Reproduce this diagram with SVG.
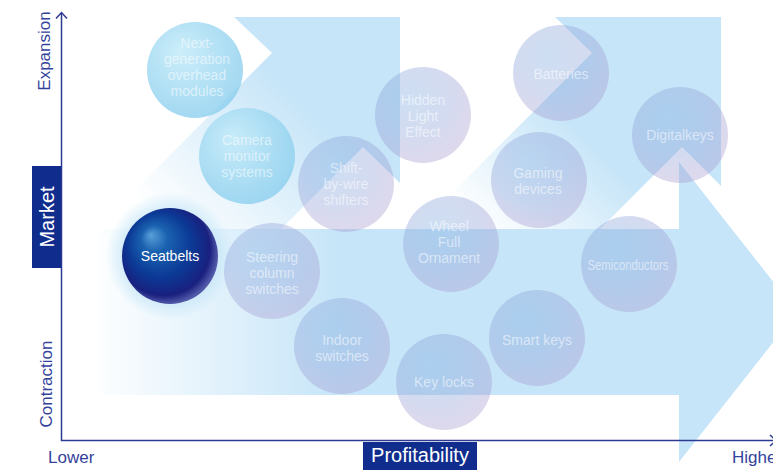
<svg xmlns="http://www.w3.org/2000/svg" width="773" height="470" viewBox="0 0 773 470">
<defs>
<style>
.band{fill:#c6e5f8}
.lbl{font-family:"Liberation Sans",Arial,Helvetica,sans-serif;font-size:14px;fill:#ffffff;text-anchor:middle}
.faint{fill-opacity:0.55}
.axis{stroke:#2c3a92;stroke-width:1.5;fill:none}
.axt{font-family:"Liberation Sans",Arial,Helvetica,sans-serif;font-size:17px;fill:#33439c}
.box{fill:#102d8e}
.boxt{font-family:"Liberation Sans",Arial,Helvetica,sans-serif;font-size:20px;fill:#ffffff;text-anchor:middle}
</style>
<linearGradient id="gA" gradientUnits="userSpaceOnUse" x1="100" y1="160" x2="230" y2="30">
<stop offset="0" stop-color="#c6e5f8" stop-opacity="0"/>
<stop offset="1" stop-color="#c6e5f8" stop-opacity="1"/>
</linearGradient>
<linearGradient id="gC" gradientUnits="userSpaceOnUse" x1="420" y1="170" x2="520" y2="70">
<stop offset="0" stop-color="#c6e5f8" stop-opacity="0"/>
<stop offset="1" stop-color="#c6e5f8" stop-opacity="1"/>
</linearGradient>
<linearGradient id="gBody" gradientUnits="userSpaceOnUse" x1="100" y1="0" x2="340" y2="0">
<stop offset="0" stop-color="#c6e5f8" stop-opacity="0.05"/>
<stop offset="1" stop-color="#c6e5f8" stop-opacity="1"/>
</linearGradient>
<radialGradient id="gCyan" cx="0.42" cy="0.38" r="0.62" fx="0.35" fy="0.3">
<stop offset="0" stop-color="#c4ebf9" stop-opacity="0.85"/>
<stop offset="1" stop-color="#8ccfee" stop-opacity="0.8"/>
</radialGradient>
<radialGradient id="gLav" cx="0.42" cy="0.38" r="0.62" fx="0.35" fy="0.3">
<stop offset="0" stop-color="#82aee0" stop-opacity="0.4"/>
<stop offset="0.6" stop-color="#8ca0d8" stop-opacity="0.38"/>
<stop offset="1" stop-color="#a596cd" stop-opacity="0.37"/>
</radialGradient>
<radialGradient id="gNavy" cx="0.45" cy="0.45" r="0.55" fx="0.3" fy="0.28">
<stop offset="0" stop-color="#5aa0da"/>
<stop offset="0.25" stop-color="#1a62b0"/>
<stop offset="0.6" stop-color="#0b3a96"/>
<stop offset="0.88" stop-color="#19207f"/>
<stop offset="1" stop-color="#5058a8"/>
</radialGradient>
<radialGradient id="gGlow" cx="0.5" cy="0.5" r="0.5">
<stop offset="0.7" stop-color="#bfe3f7" stop-opacity="0.7"/>
<stop offset="1" stop-color="#bfe3f7" stop-opacity="0"/>
</radialGradient>
</defs>
<rect width="773" height="470" fill="#ffffff"/>
<g id="trend-arrows">
<polygon fill="url(#gA)" points="234,17 400,17 400,183 363,147 280,230 95,230 272,53"/>
<polygon fill="url(#gC)" points="555,17 721,17 721,186 682,147 599,230 415,230 592,53"/>
<rect x="100" y="229" width="580" height="166" fill="url(#gBody)"/>
<polygon class="band" points="679,162 797,312 679,462"/>
</g>
<g id="connectors">
<polyline class="axis" points="61.5,13 61.5,440.5 776,440.5"/>
<polyline class="axis" points="56,18.5 61.5,12.5 67,18.5"/>
<polyline class="axis" points="770,435 776,440.5 770,446"/>
</g>
<g id="axis-labels">
<text class="axt" transform="translate(50,51) rotate(-90)" text-anchor="middle">Expansion</text>
<text class="axt" transform="translate(52,384) rotate(-90)" text-anchor="middle">Contraction</text>
<rect class="box" x="32" y="166" width="29" height="102"/>
<text class="boxt" transform="translate(54,217) rotate(-90)">Market</text>
<rect class="box" x="363" y="442" width="114" height="28"/>
<text class="boxt" x="420" y="462">Profitability</text>
<text class="axt" x="48" y="463">Lower</text>
<text class="axt" x="732" y="463">Higher</text>
</g>
<g id="node-next-generation">
<circle cx="195" cy="70" r="48" fill="url(#gCyan)"/>
<text class="lbl faint"><tspan x="197" y="48">Next-</tspan><tspan x="197" y="64">generation</tspan><tspan x="197" y="80">overhead</tspan><tspan x="197" y="96">modules</tspan></text>
</g>
<g id="node-camera">
<circle cx="247" cy="156" r="48" fill="url(#gCyan)"/>
<text class="lbl faint"><tspan x="247" y="145">Camera</tspan><tspan x="247" y="161">monitor</tspan><tspan x="247" y="177">systems</tspan></text>
</g>
<g id="node-seatbelts">
<circle cx="170" cy="256" r="64" fill="url(#gGlow)"/>
<circle cx="170" cy="256" r="48" fill="url(#gNavy)"/>
<text class="lbl" x="170" y="261">Seatbelts</text>
</g>
<g id="node-steering">
<circle cx="272" cy="271" r="48" fill="url(#gLav)"/>
<text class="lbl faint"><tspan x="272" y="262">Steering</tspan><tspan x="272" y="278">column</tspan><tspan x="272" y="294">switches</tspan></text>
</g>
<g id="node-indoor">
<circle cx="342" cy="346" r="48" fill="url(#gLav)"/>
<text class="lbl faint"><tspan x="342" y="345">Indoor</tspan><tspan x="342" y="361">switches</tspan></text>
</g>
<g id="node-shift">
<circle cx="346" cy="184" r="48" fill="url(#gLav)"/>
<text class="lbl faint"><tspan x="346" y="173">Shift-</tspan><tspan x="346" y="189">by-wire</tspan><tspan x="346" y="205">shifters</tspan></text>
</g>
<g id="node-hidden">
<circle cx="423" cy="115" r="48" fill="url(#gLav)"/>
<text class="lbl faint"><tspan x="423" y="105">Hidden</tspan><tspan x="423" y="121">Light</tspan><tspan x="423" y="137">Effect</tspan></text>
</g>
<g id="node-wheel">
<circle cx="451" cy="244" r="48" fill="url(#gLav)"/>
<text class="lbl faint"><tspan x="449" y="231">Wheel</tspan><tspan x="449" y="247">Full</tspan><tspan x="449" y="263">Ornament</tspan></text>
</g>
<g id="node-keylocks">
<circle cx="444" cy="382" r="48" fill="url(#gLav)"/>
<text class="lbl faint" x="444" y="387">Key locks</text>
</g>
<g id="node-smartkeys">
<circle cx="537" cy="338" r="48" fill="url(#gLav)"/>
<text class="lbl faint" x="537" y="345">Smart keys</text>
</g>
<g id="node-semiconductors">
<circle cx="629" cy="264" r="48" fill="url(#gLav)"/>
<text class="lbl faint" x="628" y="270" textLength="81" lengthAdjust="spacingAndGlyphs">Semiconductors</text>
</g>
<g id="node-batteries">
<circle cx="561" cy="73" r="48" fill="url(#gLav)"/>
<text class="lbl faint" x="561" y="79">Batteries</text>
</g>
<g id="node-gaming">
<circle cx="539" cy="180" r="48" fill="url(#gLav)"/>
<text class="lbl faint"><tspan x="538" y="178">Gaming</tspan><tspan x="538" y="194">devices</tspan></text>
</g>
<g id="node-digitalkeys">
<circle cx="680" cy="135" r="48" fill="url(#gLav)"/>
<text class="lbl faint" x="680" y="140">Digitalkeys</text>
</g>
</svg>
